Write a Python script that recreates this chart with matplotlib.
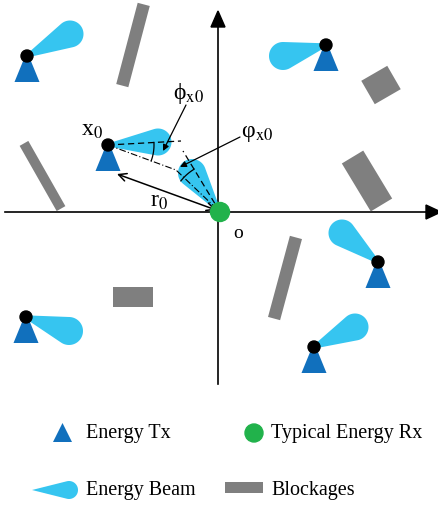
import numpy as np
import matplotlib
matplotlib.use("Agg")
import matplotlib.pyplot as plt
from matplotlib.patches import Polygon, Circle, Rectangle

plt.rcParams['font.family'] = ['Liberation Serif', 'DejaVu Serif']
plt.rcParams['mathtext.fontset'] = 'stix'

# Colours
TX_BLUE = "#1170BD"
BEAM_BLUE = "#36C5F0"
RX_GREEN = "#21B24B"
BLOCK_GRAY = "#7F7F7F"

# Energy transmitters (dot position) and where their beams end (round end centre)
tx_x = [27, 108, 326, 378, 314, 26]
tx_y = [57, 146, 46, 263, 348, 318]
beam_end_x = [70, 158, 283, 342, 355, 69]
beam_end_y = [35, 143, 57, 234, 328, 332]
beam_r = [13.5, 13.5, 14, 13.5, 13.5, 14]

# Typical receiver at the origin and its beam
rx_x, rx_y = 220, 213
rx_beam_end = (192, 174)
rx_beam_r = 14

# Blockages: centre, length, width, angle (deg, picture coords)
blk_cx = [133, 42.5, 381, 367, 133, 285]
blk_cy = [46, 177, 86, 182, 298, 279]
blk_len = [84, 75, 30, 56, 40, 84]
blk_wid = [12.5, 10, 27, 25, 20, 12.5]
blk_ang = [104.8, 60.4, -30, 58.9, 0, 105.1]

legend_labels = ["Energy Tx", "Typical Energy Rx", "Energy Beam", "Blockages"]


def teardrop(px, py, cx, cy, r, back=0.0, n=40):
    # beam shape: apex at (or just behind) the transmitter, round cap at the far end
    d0 = np.hypot(cx - px, cy - py)
    px = px - (cx - px) / d0 * back
    py = py - (cy - py) / d0 * back
    d = np.hypot(cx - px, cy - py)
    th0 = np.arctan2(py - cy, px - cx)
    beta = np.arccos(r / d)
    t = np.linspace(th0 + beta, th0 + 2 * np.pi - beta, n)
    pts = [(px, py)] + list(zip(cx + r * np.cos(t), cy + r * np.sin(t)))
    return pts


def rot_rect(cx, cy, length, width, ang):
    a = np.deg2rad(ang)
    u = np.array([np.cos(a), np.sin(a)]) * length / 2
    v = np.array([-np.sin(a), np.cos(a)]) * width / 2
    c = np.array([cx, cy])
    return [c + u + v, c + u - v, c - u - v, c - u + v]


def tx_shape(x, y):
    return [(x - 3.5, y + 4), (x + 3.5, y + 4), (x + 12.5, y + 26), (x - 12.5, y + 26)]


def arc_pts(cx, cy, r, p1, p2, n=20):
    a1 = np.arctan2(p1[1] - cy, p1[0] - cx)
    a2 = np.arctan2(p2[1] - cy, p2[0] - cx)
    t = np.linspace(a1, a2, n)
    return cx + r * np.cos(t), cy + r * np.sin(t)


fig = plt.figure(figsize=(4.38, 5.06), dpi=100)
ax = fig.add_axes([0, 0, 1, 1])
ax.set_xlim(0, 438)
ax.set_ylim(506, 0)
ax.axis("off")

# coordinate axes
ax.plot([5, 428], [213, 213], color="black", lw=1.2, zorder=1)
ax.plot([218, 218], [385, 26], color="black", lw=1.2, zorder=1)
ax.add_patch(Polygon([(426, 206), (441, 213), (426, 220)], closed=True, color="black", zorder=1))
ax.add_patch(Polygon([(211, 28), (218, 12), (225, 28)], closed=True, color="black", zorder=1))

# blockages
for i in range(len(blk_cx)):
    ax.add_patch(Polygon(rot_rect(blk_cx[i], blk_cy[i], blk_len[i], blk_wid[i], blk_ang[i]),
                         closed=True, color=BLOCK_GRAY, lw=0, zorder=2))

# transmitters with beams
for i in range(len(tx_x)):
    ax.add_patch(Polygon(teardrop(tx_x[i], tx_y[i], beam_end_x[i], beam_end_y[i], beam_r[i], back=6),
                         closed=True, color=BEAM_BLUE, lw=0, zorder=3))
    ax.add_patch(Polygon(tx_shape(tx_x[i], tx_y[i]), closed=True, color=TX_BLUE, lw=0, zorder=4))
    ax.add_patch(Circle((tx_x[i], tx_y[i]), 6, color="black", zorder=5))

# receiver beam and receiver
ax.add_patch(Polygon(teardrop(rx_x, rx_y, rx_beam_end[0], rx_beam_end[1], rx_beam_r, back=4),
                     closed=True, color=BEAM_BLUE, lw=0, zorder=3))

# geometry lines
x0x, x0y = tx_x[1], tx_y[1]
ax.plot([x0x, 181], [x0y, 142], color="black", lw=0.9, ls=(0, (5, 3)), zorder=6)
ax.plot([x0x, 176, rx_x], [x0y, 171, rx_y], color="black", lw=0.8, ls=(0, (6, 2, 1, 2)), zorder=6)
ax.plot([rx_x, 183], [rx_y, 152], color="black", lw=0.9, ls=(0, (5, 3)), zorder=6)
xa, ya = arc_pts(x0x, x0y, 46, (181, 142), (176, 171))
ax.plot(xa, ya, color="black", lw=0.9, zorder=6)
xa, ya = arc_pts(rx_x, rx_y, 50, (176, 178), (183, 152))
ax.plot(xa, ya, color="black", lw=0.9, zorder=6)

# r0 arrow
ax.annotate("", xy=(117, 175), xytext=(216, 211),
            arrowprops=dict(arrowstyle="<->", color="black", lw=1.1, mutation_scale=14, shrinkA=0, shrinkB=0),
            zorder=6)
# angle pointers
ax.annotate("", xy=(163, 152), xytext=(186, 106),
            arrowprops=dict(arrowstyle="-|>", color="black", lw=0.9, mutation_scale=9, shrinkA=0, shrinkB=0),
            zorder=7)
ax.annotate("", xy=(180, 168), xytext=(240, 138),
            arrowprops=dict(arrowstyle="-|>", color="black", lw=0.9, mutation_scale=9, shrinkA=0, shrinkB=0),
            zorder=7)

ax.add_patch(Circle((rx_x, rx_y), 9.5, color=RX_GREEN, zorder=8))

# labels
ax.text(81, 130, "x" + r"$_0$", fontsize=17, va="center", ha="left", zorder=9)
ax.text(150, 202, "r" + r"$_0$", fontsize=17, va="center", ha="left", zorder=9)
ax.text(173, 93, "\u03d5" + r"$_{\mathrm{x0}}$", fontsize=17, va="center", ha="left", zorder=9)
ax.text(241, 133, "\u03c6" + r"$_{\mathrm{x0}}$", fontsize=17, va="center", ha="left", zorder=9)
ax.text(233, 234, "o", fontsize=14, va="center", ha="left", zorder=9)

# legend
ax.add_patch(Polygon([(53, 443), (62.5, 424), (72, 443)], closed=True, color=TX_BLUE, lw=0))
ax.text(86, 434, legend_labels[0], fontsize=14.5, va="center", ha="left")
ax.add_patch(Circle((254, 434), 9, color=RX_GREEN))
ax.text(271, 434, legend_labels[1], fontsize=14.5, va="center", ha="left")
ax.add_patch(Polygon(teardrop(32, 491, 69, 491, 9), closed=True, color=BEAM_BLUE, lw=0))
ax.text(86, 491, legend_labels[2], fontsize=14.5, va="center", ha="left")
ax.add_patch(Rectangle((225, 483), 38, 11, color=BLOCK_GRAY, lw=0))
ax.text(271, 491, legend_labels[3], fontsize=14.5, va="center", ha="left")

fig.savefig("out.png", dpi=100)
